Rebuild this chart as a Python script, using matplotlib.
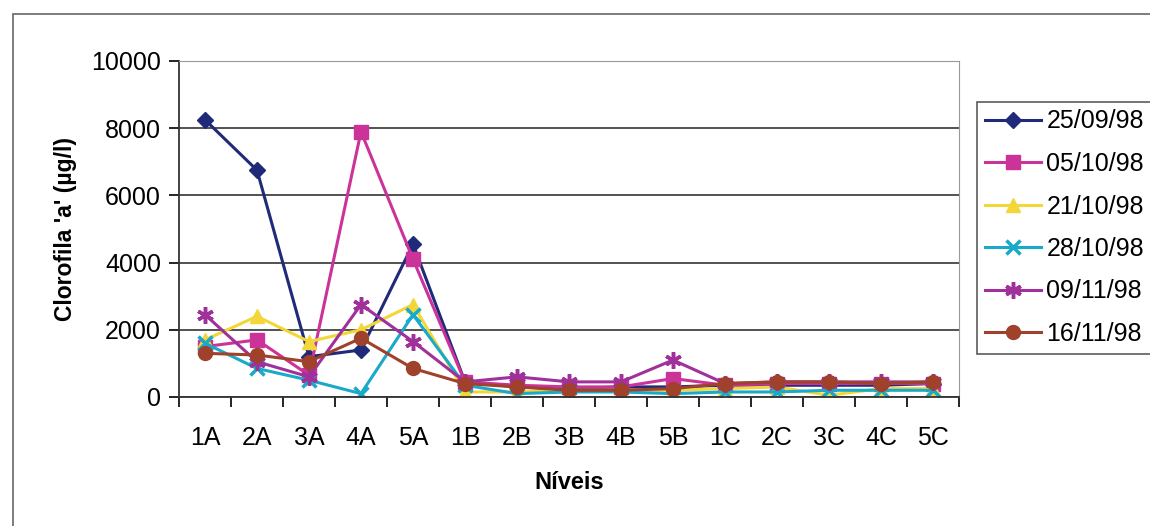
import matplotlib
matplotlib.use("Agg")
import matplotlib.pyplot as plt
from matplotlib.patches import Rectangle

plt.rcParams['font.family'] = ['Liberation Sans', 'DejaVu Sans']

niveis = ["1A", "2A", "3A", "4A", "5A", "1B", "2B", "3B", "4B", "5B",
          "1C", "2C", "3C", "4C", "5C"]
datas = ["25/09/98", "05/10/98", "21/10/98", "28/10/98", "09/11/98", "16/11/98"]

s_25_09 = [8250, 6750, 1200, 1400, 4550, 450, 300, 250, 300, 300, 350, 350, 350, 350, 400]
s_05_10 = [1500, 1700, 650, 7900, 4100, 450, 350, 300, 300, 550, 350, 400, 400, 400, 400]
s_21_10 = [1700, 2400, 1650, 2000, 2750, 150, 150, 200, 200, 200, 250, 300, 50, 250, 250]
s_28_10 = [1600, 850, 500, 100, 2450, 350, 100, 150, 150, 100, 150, 150, 200, 200, 200]
s_09_11 = [2450, 1050, 600, 2750, 1650, 450, 600, 450, 450, 1100, 400, 450, 450, 450, 450]
s_16_11 = [1300, 1250, 1050, 1750, 850, 400, 300, 200, 200, 250, 400, 450, 450, 400, 450]
series = [s_25_09, s_05_10, s_21_10, s_28_10, s_09_11, s_16_11]

colors = ["#1f2a78", "#cc3399", "#f2d63a", "#19a9c9", "#a0309a", "#a0412b"]
markers = ["D", "s", "^", "x", (6, 2, 0), "o"]
msizes = [8, 10, 10, 10, 12, 10]

W, H = 1150, 526
fig = plt.figure(figsize=(W / 100, H / 100), dpi=100)
fig.patches.append(Rectangle((13 / W, -0.1), 1.2, 1.1 - 14 / H, transform=fig.transFigure,
                             fill=False, edgecolor="#666666", linewidth=1.2))

ax = fig.add_axes([179 / W, 1 - 397 / H, (959 - 179) / W, (397 - 61) / H])
x = list(range(len(niveis)))
for vals, c, m, ms, lab in zip(series, colors, markers, msizes, datas):
    ax.plot(x, vals, color=c, marker=m, markersize=ms, linewidth=2.2,
            markeredgewidth=2.5 if m in ("x", (6, 2, 0)) else 1, markeredgecolor=c,
            label=lab)

ax.set_xlim(-0.5, len(niveis) - 0.5)
ax.set_ylim(0, 10000)
ax.set_yticks(range(0, 10001, 2000))
ax.set_xticks(x)
ax.set_xticklabels(niveis)
ax.set_xticks([i - 0.5 for i in range(len(niveis) + 1)], minor=True)
ax.tick_params(axis="x", which="major", length=0, pad=21, labelsize=18)
ax.tick_params(axis="x", which="minor", length=7, direction="out", width=1.2)
ax.tick_params(axis="y", length=7, direction="out", width=1.2, labelsize=18, pad=6)
ax.yaxis.grid(True, color="#333333", linewidth=1.2)
ax.set_axisbelow(True)
for side in ["top", "right"]:
    ax.spines[side].set_color("#999999")
for side in ["left", "bottom"]:
    ax.spines[side].set_color("#333333")
    ax.spines[side].set_linewidth(1.3)

ax.set_ylabel("Clorofila 'a' (µg/l)", fontsize=16.5, fontweight="bold", labelpad=10)
ax.set_xlabel("Níveis", fontsize=17, fontweight="bold", labelpad=15)

leg = fig.legend(loc="upper left", bbox_to_anchor=(977 / W, 1 - 102 / H),
                 fontsize=18, frameon=True, fancybox=False, edgecolor="#333333",
                 borderaxespad=0, handlelength=2.25, labelspacing=0.74,
                 handletextpad=0.22, borderpad=0.3)
leg.get_frame().set_linewidth(1.2)

fig.savefig("out.png", dpi=100)
